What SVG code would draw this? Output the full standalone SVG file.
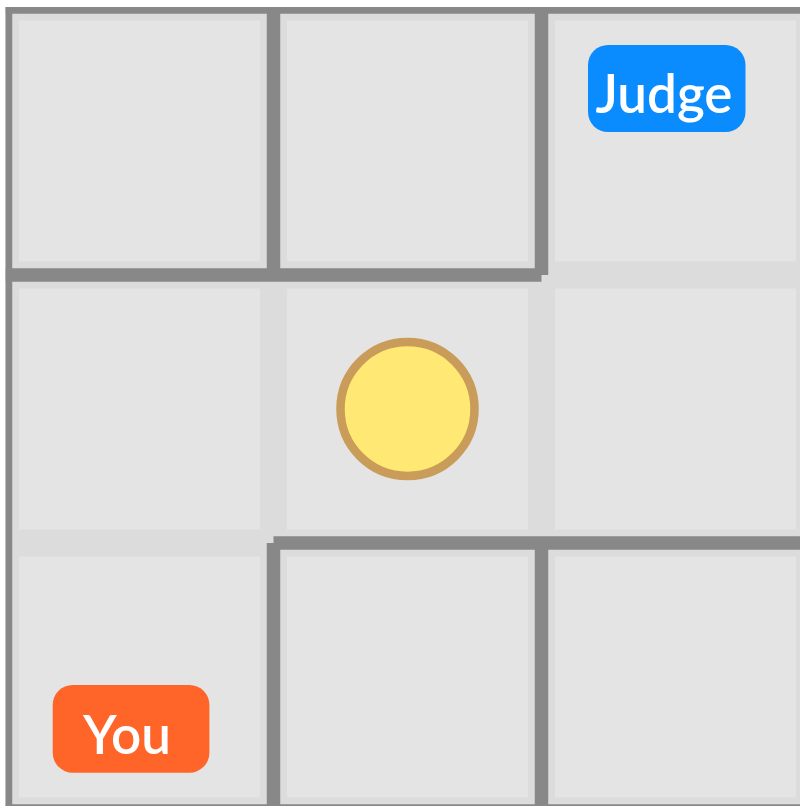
<svg xmlns="http://www.w3.org/2000/svg" width="800" height="806" viewBox="0 0 800 806">
  <style>
    .cell { fill: #e4e4e4; }
    .wall { stroke: #888888; stroke-width: 13.5; stroke-linecap: butt; fill: none; }
    .lbl { font-family: Lato, "Open Sans", "Liberation Sans", sans-serif; font-size: 53px; font-weight: 600; fill: #ffffff; text-anchor: middle; }
  </style>
  <defs>
    <clipPath id="clip">
      <rect x="5.5" y="7" width="800" height="805"/>
    </clipPath>
  </defs>
  <rect x="0" y="0" width="800" height="806" fill="#ffffff"/>
  <g clip-path="url(#clip)">
    <rect x="5.5" y="7" width="810" height="810" fill="#dcdcdc"/>
    <g id="cells">
      <rect id="cell-0-0" class="cell" x="19" y="20.5" width="241" height="241"/>
      <rect id="cell-0-1" class="cell" x="287" y="20.5" width="241" height="241"/>
      <rect id="cell-0-2" class="cell" x="555" y="20.5" width="241" height="241"/>
      <rect id="cell-1-0" class="cell" x="19" y="288.5" width="241" height="241"/>
      <rect id="cell-1-1" class="cell" x="287" y="288.5" width="241" height="241"/>
      <rect id="cell-1-2" class="cell" x="555" y="288.5" width="241" height="241"/>
      <rect id="cell-2-0" class="cell" x="19" y="556.5" width="241" height="241"/>
      <rect id="cell-2-1" class="cell" x="287" y="556.5" width="241" height="241"/>
      <rect id="cell-2-2" class="cell" x="555" y="556.5" width="241" height="241"/>
    </g>
    <g id="walls">
      <line class="wall" x1="5.5" y1="7" x2="5.5" y2="811"/>
      <line class="wall" x1="5.5" y1="7" x2="809.5" y2="7"/>
      <line class="wall" x1="5.5" y1="811" x2="809.5" y2="811"/>
      <line class="wall" x1="809.5" y1="7" x2="809.5" y2="811"/>
      <line class="wall" x1="273.5" y1="7" x2="273.5" y2="275"/>
      <line class="wall" x1="541.5" y1="7" x2="541.5" y2="275"/>
      <line class="wall" x1="5.5" y1="275" x2="541.5" y2="275"/>
      <line class="wall" x1="273.5" y1="543" x2="809.5" y2="543"/>
      <line class="wall" x1="273.5" y1="543" x2="273.5" y2="811"/>
      <line class="wall" x1="541.5" y1="543" x2="541.5" y2="811"/>
    </g>
  </g>
  <g id="coin">
    <circle cx="407.5" cy="409" r="67" fill="#ffe873" stroke="#c99c59" stroke-width="8.5"/>
  </g>
  <g id="judge">
    <rect x="588" y="45" width="157.5" height="87" rx="20" fill="#0a8cff"/>
    <text class="lbl" x="664" y="112.5">Judge</text>
  </g>
  <g id="you">
    <rect x="52.7" y="685" width="156.7" height="87.7" rx="20" fill="#ff6428"/>
    <text class="lbl" x="127" y="754">You</text>
  </g>
</svg>
